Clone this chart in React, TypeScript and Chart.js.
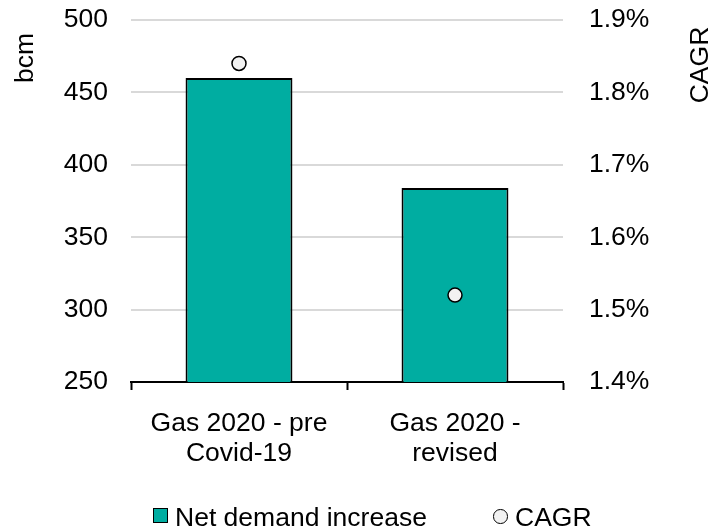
import { useEffect, useRef } from 'react';
import { Chart, registerables } from 'chart.js';

Chart.register(...registerables);

const categories: string[][] = [['Gas 2020 - pre', 'Covid-19'], ['Gas 2020 -', 'revised']];
const netDemandIncrease: number[] = [460, 384];
const cagr: number[] = [1.84, 1.52];
const leftTicks: number[] = [250, 300, 350, 400, 450, 500];
const rightTicks: number[] = [1.4, 1.5, 1.6, 1.7, 1.8, 1.9];
const seriesNames: string[] = ['Net demand increase', 'CAGR'];
const axisTitles: string[] = ['bcm', 'CAGR'];

const FONT = "'Liberation Sans', Arial, sans-serif";
const FS = 26.5;
const TEAL = '#00ADA1';
const POINT_FILL = '#F2F2F2';

const titlePlugin = {
  id: 'axisTitlesCustom',
  afterDraw(chart: any) {
    const ctx = chart.ctx as CanvasRenderingContext2D;
    ctx.save();
    ctx.font = `${FS}px ${FONT}`;
    ctx.fillStyle = '#000';
    ctx.textAlign = 'center';
    ctx.textBaseline = 'alphabetic';
    ctx.save();
    ctx.translate(32.5, 58);
    ctx.rotate(-Math.PI / 2);
    ctx.fillText(axisTitles[0], 0, 0);
    ctx.restore();
    ctx.save();
    ctx.translate(708, 65);
    ctx.rotate(-Math.PI / 2);
    ctx.fillText(axisTitles[1], 0, 0);
    ctx.restore();
    ctx.restore();
  },
};

export default function App() {
  const ref = useRef<HTMLCanvasElement | null>(null);

  useEffect(() => {
    if (!ref.current) return;
    const chart = new Chart(ref.current, {
      type: 'bar',
      data: {
        labels: categories as any,
        datasets: [
          {
            type: 'bar',
            label: seriesNames[0],
            data: netDemandIncrease,
            backgroundColor: TEAL,
            borderColor: '#000',
            borderWidth: 2,
            barPercentage: 0.495,
            categoryPercentage: 1,
            yAxisID: 'y',
            order: 2,
          } as any,
          {
            type: 'line',
            label: seriesNames[1],
            data: cagr,
            showLine: false,
            pointRadius: 7,
            pointHoverRadius: 7,
            pointBackgroundColor: POINT_FILL,
            pointBorderColor: '#000',
            pointBorderWidth: 1.5,
            backgroundColor: POINT_FILL,
            borderColor: '#000',
            yAxisID: 'y1',
            order: 1,
          } as any,
        ],
      },
      options: {
        responsive: false,
        animation: false,
        layout: { padding: { top: 20, left: 39, right: 0, bottom: 0 } },
        plugins: {
          tooltip: { enabled: false },
          legend: { display: false },
        },
        scales: {
          x: {
            offset: true,
            grid: {
              display: true,
              offset: true,
              drawOnChartArea: false,
              drawTicks: true,
              tickLength: 8,
              tickColor: '#000',
              tickWidth: 2,
            },
            border: { display: true, color: '#000', width: 2 },
            ticks: {
              color: '#000',
              padding: 18.5,
              maxRotation: 0,
              autoSkip: false,
              font: { family: FONT, size: FS, lineHeight: 1.13 },
            },
            afterFit: (s: any) => { s.height = 146; },
          },
          y: {
            position: 'left',
            min: 250,
            max: 500,
            afterBuildTicks: (s: any) => { s.ticks = leftTicks.map((v) => ({ value: v })); },
            grid: { color: '#D9D9D9', lineWidth: 2, drawTicks: false },
            border: { display: false },
            ticks: {
              color: '#000',
              padding: 23,
              font: { family: FONT, size: FS },
            },
            afterFit: (s: any) => { s.width = 92; s.paddingTop = 0; s.paddingBottom = 0; },
          },
          y1: {
            position: 'right',
            min: 1.4,
            max: 1.9,
            afterBuildTicks: (s: any) => { s.ticks = rightTicks.map((v) => ({ value: v })); },
            grid: { display: false, drawTicks: false },
            border: { display: false },
            ticks: {
              color: '#000',
              padding: 26,
              font: { family: FONT, size: FS },
              callback: (v: any) => `${Number(v).toFixed(1)}%`,
            },
            afterFit: (s: any) => { s.width = 148; s.paddingTop = 0; s.paddingBottom = 0; },
          },
        },
      },
      plugins: [titlePlugin],
    });
    return () => chart.destroy();
  }, []);

  const legendText: React.CSSProperties = {
    position: 'absolute',
    top: 502,
    height: 30,
    lineHeight: '30px',
    fontFamily: FONT,
    fontSize: FS,
    color: '#000',
    whiteSpace: 'nowrap',
  };

  return (
    <div style={{ position: 'fixed', left: 0, top: 0, width: 711, height: 528, background: '#fff', overflow: 'hidden' }}>
      <canvas ref={ref} width={711} height={528} style={{ display: 'block' }} />
      <div style={{ position: 'absolute', left: 153, top: 508, width: 15, height: 15, boxSizing: 'border-box', background: TEAL, border: '1.5px solid #000' }} />
      <div style={{ ...legendText, left: 175 }}>{seriesNames[0]}</div>
      <div style={{ position: 'absolute', left: 493, top: 509, width: 14.5, height: 14.5, boxSizing: 'border-box', borderRadius: '50%', background: POINT_FILL, border: '1.5px solid #000' }} />
      <div style={{ ...legendText, left: 515 }}>{seriesNames[1]}</div>
    </div>
  );
}
